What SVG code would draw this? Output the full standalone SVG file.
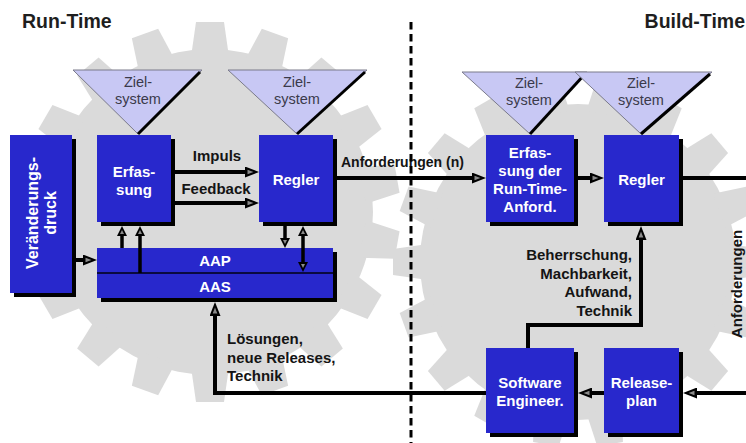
<svg xmlns="http://www.w3.org/2000/svg" xmlns:xlink="http://www.w3.org/1999/xlink" width="746" height="443" viewBox="0 0 746 443">
<defs>
<style>
.box{fill:#2828cc}
.sh{fill:#000}
.tri{fill:#c8c8f4;stroke:#7a7a8a;stroke-width:1}
.triedge{stroke:#000;stroke-width:3;fill:none}
.bw{font-family:"Liberation Sans",Arial,sans-serif;font-weight:bold;font-size:15px;fill:#fff;text-anchor:middle}
.zt{font-family:"Liberation Sans",Arial,sans-serif;font-size:14.5px;fill:#3a3a4a;text-anchor:middle}
.lb{font-family:"Liberation Sans",Arial,sans-serif;font-weight:bold;font-size:15px;fill:#141414}
.title{font-family:"Liberation Sans",Arial,sans-serif;font-weight:bold;font-size:19.5px;fill:#1e1e1e}
.ln{fill:none;stroke:#000;stroke-width:4}
.lns{fill:none;stroke:#000;stroke-width:3.5}
.gear{fill:#dadada}
</style>
<marker id="ah" viewBox="0 0 14 11" markerUnits="userSpaceOnUse" markerWidth="14" markerHeight="11" refX="2" refY="5.5" orient="auto-start-reverse">
<path d="M0,0 L14,5.5 L0,11 Z" fill="#000"/>
<path d="M2.5,3.2 L8.5,5.5 L2.5,7.8 Z" fill="#8a8a8a"/>
</marker>
<marker id="ahs" viewBox="0 0 10 10" markerUnits="userSpaceOnUse" markerWidth="10" markerHeight="10" refX="1.5" refY="5" orient="auto-start-reverse">
<path d="M0,0 L10,5 L0,10 Z" fill="#000"/>
<path d="M2,3 L6,5 L2,7 Z" fill="#8a8a8a"/>
</marker>
<polygon id="tL" points="-19,-155 19,-155 14,-190 -14,-190"/>
<polygon id="tR" points="-18,-150 18,-150 13,-185 -13,-185"/>
</defs>

<g id="background" class="gear">
<circle cx="210" cy="212" r="163"/>
<g transform="translate(210 212)">
<use xlink:href="#tL" transform="rotate(0)"/><use xlink:href="#tL" transform="rotate(20)"/><use xlink:href="#tL" transform="rotate(40)"/><use xlink:href="#tL" transform="rotate(60)"/><use xlink:href="#tL" transform="rotate(80)"/><use xlink:href="#tL" transform="rotate(100)"/><use xlink:href="#tL" transform="rotate(120)"/><use xlink:href="#tL" transform="rotate(140)"/><use xlink:href="#tL" transform="rotate(160)"/><use xlink:href="#tL" transform="rotate(180)"/><use xlink:href="#tL" transform="rotate(200)"/><use xlink:href="#tL" transform="rotate(220)"/><use xlink:href="#tL" transform="rotate(240)"/><use xlink:href="#tL" transform="rotate(260)"/><use xlink:href="#tL" transform="rotate(280)"/><use xlink:href="#tL" transform="rotate(300)"/><use xlink:href="#tL" transform="rotate(320)"/><use xlink:href="#tL" transform="rotate(340)"/>
</g>
<circle cx="578" cy="262" r="158"/>
<g transform="translate(578 262)">
<use xlink:href="#tR" transform="rotate(10)"/><use xlink:href="#tR" transform="rotate(30)"/><use xlink:href="#tR" transform="rotate(50)"/><use xlink:href="#tR" transform="rotate(70)"/><use xlink:href="#tR" transform="rotate(90)"/><use xlink:href="#tR" transform="rotate(110)"/><use xlink:href="#tR" transform="rotate(130)"/><use xlink:href="#tR" transform="rotate(150)"/><use xlink:href="#tR" transform="rotate(170)"/><use xlink:href="#tR" transform="rotate(190)"/><use xlink:href="#tR" transform="rotate(210)"/><use xlink:href="#tR" transform="rotate(230)"/><use xlink:href="#tR" transform="rotate(250)"/><use xlink:href="#tR" transform="rotate(270)"/><use xlink:href="#tR" transform="rotate(290)"/><use xlink:href="#tR" transform="rotate(310)"/><use xlink:href="#tR" transform="rotate(330)"/><use xlink:href="#tR" transform="rotate(350)"/>
</g>
</g>

<g id="titles">
<text class="title" x="22" y="28">Run-Time</text>
<text class="title" x="745" y="28" text-anchor="end">Build-Time</text>
</g>

<g id="node-ziel-1">
<polygon class="tri" points="73,70 202,70 138,134"/>
<line class="triedge" x1="200" y1="72" x2="138" y2="134"/>
<text class="zt" x="138" y="87">Ziel-</text>
<text class="zt" x="138" y="104">system</text>
</g>
<g id="node-ziel-2">
<polygon class="tri" points="228,70 367,70 297,134"/>
<line class="triedge" x1="365" y1="72" x2="297" y2="134"/>
<text class="zt" x="297" y="87">Ziel-</text>
<text class="zt" x="297" y="104">system</text>
</g>
<g id="node-ziel-3">
<polygon class="tri" points="462,72 587,72 530,134"/>
<line class="triedge" x1="585" y1="74" x2="530" y2="134"/>
<text class="zt" x="529" y="88">Ziel-</text>
<text class="zt" x="529" y="105">system</text>
</g>
<g id="node-ziel-4">
<polygon class="tri" points="575,72 712,72 641,134"/>
<line class="triedge" x1="710" y1="74" x2="641" y2="134"/>
<text class="zt" x="641" y="88">Ziel-</text>
<text class="zt" x="641" y="105">system</text>
</g>

<g id="node-veraenderungsdruck">
<rect class="sh" x="14" y="139" width="62" height="158"/>
<rect class="box" x="10" y="135" width="62" height="158"/>
<text class="bw" style="font-size:16px" transform="translate(38 213) rotate(-90)">Veränderungs-</text>
<text class="bw" style="font-size:16px" transform="translate(56 213) rotate(-90)">druck</text>
</g>

<g id="node-erfassung">
<rect class="sh" x="101" y="139" width="74" height="87"/>
<rect class="box" x="97" y="135" width="74" height="87"/>
<text class="bw" x="134" y="177">Erfas-</text>
<text class="bw" x="134" y="195">sung</text>
</g>

<g id="node-regler-rt">
<rect class="sh" x="263" y="139" width="74" height="87"/>
<rect class="box" x="259" y="135" width="74" height="87"/>
<text class="bw" x="296" y="185">Regler</text>
</g>

<g id="node-aap-aas">
<rect class="sh" x="101" y="252" width="236" height="50"/>
<rect class="box" x="97" y="248" width="236" height="50"/>
<line x1="97" y1="273" x2="333" y2="273" stroke="#0a0a40" stroke-width="2"/>
<text class="bw" x="215" y="266">AAP</text>
<text class="bw" x="215" y="291.5">AAS</text>
</g>

<g id="node-erfassung-bt">
<rect class="sh" x="490" y="139" width="88" height="87"/>
<rect class="box" x="486" y="135" width="88" height="87"/>
<text class="bw" x="530" y="158">Erfas-</text>
<text class="bw" x="530" y="176">sung der</text>
<text class="bw" x="530" y="194">Run-Time-</text>
<text class="bw" x="530" y="212">Anford.</text>
</g>

<g id="node-regler-bt">
<rect class="sh" x="608" y="139" width="75" height="87"/>
<rect class="box" x="604" y="135" width="75" height="87"/>
<text class="bw" x="641.5" y="185">Regler</text>
</g>

<g id="node-software-engineer">
<rect class="sh" x="490" y="352" width="88" height="85"/>
<rect class="box" x="486" y="348" width="88" height="85"/>
<text class="bw" x="530" y="388">Software</text>
<text class="bw" x="530" y="406">Engineer.</text>
</g>

<g id="node-releaseplan">
<rect class="sh" x="608" y="352" width="75" height="85"/>
<rect class="box" x="604" y="348" width="75" height="85"/>
<text class="bw" x="641.5" y="388">Release-</text>
<text class="bw" x="641.5" y="406">plan</text>
</g>

<g id="connectors">
<path class="ln" d="M175,172 H247" marker-end="url(#ah)"/>
<path class="ln" d="M175,203 H247" marker-end="url(#ah)"/>
<path class="ln" d="M337,178 H474" marker-end="url(#ah)"/>
<path class="ln" d="M578,178 H592" marker-end="url(#ah)"/>
<path class="ln" d="M683,178 H746"/>
<path class="ln" d="M746,393 H695" marker-end="url(#ah)"/>
<path class="ln" d="M604,393 H590" marker-end="url(#ah)"/>
<path class="ln" d="M486,393 H215 V314" marker-end="url(#ah)"/>
<path class="ln" d="M528,348 V325 H641 V238" marker-end="url(#ah)"/>
<path class="ln" d="M76,260 H85" marker-end="url(#ah)"/>
<path class="lns" d="M122,248 V234.5" marker-end="url(#ahs)"/>
<path class="lns" d="M140,273 V234.5" marker-end="url(#ahs)"/>
<path class="lns" d="M285,226 V239.5" marker-end="url(#ahs)"/>
<path class="lns" d="M303,234.5 V263.5" marker-start="url(#ahs)" marker-end="url(#ahs)"/>
<text class="lb" text-anchor="middle" x="217" y="161">Impuls</text>
<text class="lb" text-anchor="middle" x="216" y="194">Feedback</text>
<text class="lb" style="font-size:14px" x="341" y="167">Anforderungen (n)</text>
<text class="lb" x="227" y="344">Lösungen,</text>
<text class="lb" x="227" y="362.5">neue Releases,</text>
<text class="lb" x="227" y="381">Technik</text>
<text class="lb" text-anchor="end" x="632" y="260">Beherrschung,</text>
<text class="lb" text-anchor="end" x="632" y="278.5">Machbarkeit,</text>
<text class="lb" text-anchor="end" x="632" y="297">Aufwand,</text>
<text class="lb" text-anchor="end" x="632" y="315.5">Technik</text>
<text class="lb" text-anchor="middle" transform="translate(742 284) rotate(-90)">Anforderungen</text>
</g>

<g id="divider">
<line x1="411" y1="22" x2="411" y2="443" stroke="#000" stroke-width="3" stroke-dasharray="7.5 4.5"/>
</g>
</svg>
